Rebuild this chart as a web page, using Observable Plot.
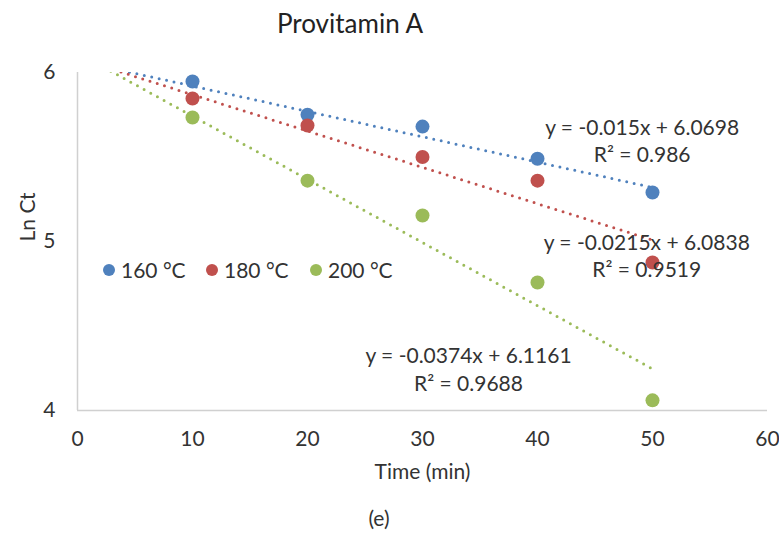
<!DOCTYPE html>
<html><head><meta charset="utf-8">
<script src="https://cdn.jsdelivr.net/npm/d3@7"></script>
<script src="https://cdn.jsdelivr.net/npm/@observablehq/plot@0.6"></script>
<style>
body{margin:0;background:#fff;font-family:Lato,sans-serif;color:#333}
#wrap{position:relative;width:779px;height:540px;overflow:hidden}
#title{height:50px;box-sizing:border-box;padding-top:8px;width:700px;text-align:center;font-size:26px;line-height:30px;color:#222}
#caption{height:45px;box-sizing:border-box;padding-top:11px;width:758px;text-align:center;font-size:21px;line-height:24px;color:#333}
.lg{position:absolute;top:258px;font-size:21px;line-height:24px;color:#333;white-space:nowrap;display:flex;align-items:center}
.lg i{display:inline-block;width:12px;height:12px;border-radius:50%;margin-right:6px}
svg{display:block}
</style></head>
<body><div id="wrap">
<div id="title">Provitamin A</div>
<div id="chart"></div>
<div id="caption">(e)</div>
</div>
<script>
const times = [10, 20, 30, 40, 50];
const seriesNames = ["160 °C", "180 °C", "200 °C"];
const ln160 = [5.947, 5.75, 5.68, 5.49, 5.29];
const ln180 = [5.846, 5.686, 5.50, 5.36, 4.876];
const ln200 = [5.734, 5.36, 5.154, 4.757, 4.06];
const slopes = [-0.015, -0.0215, -0.0374];
const intercepts = [6.0698, 6.0838, 6.1161];
const eqTexts = ["y = -0.015x + 6.0698\nR² = 0.986", "y = -0.0215x + 6.0838\nR² = 0.9519", "y = -0.0374x + 6.1161\nR² = 0.9688"];
const eqX = [49.1, 49.5, 34.0];
const eqY = [5.60, 4.92, 4.25];
const colors = ["#4F81BD", "#C0504D", "#9BBB59"];
const xTicks = [0, 10, 20, 30, 40, 50, 60];
const yTicks = [4, 5, 6];

const allSeries = [ln160, ln180, ln200];
const points = allSeries.flatMap((vals, i) => vals.map((v, j) => ({series: seriesNames[i], t: times[j], v})));
const trend = seriesNames.flatMap((s, i) => [0, 50].map(t => ({series: s, t, v: intercepts[i] + slopes[i] * t})));
const eqs = seriesNames.map((s, i) => ({series: s, text: eqTexts[i], x: eqX[i], y: eqY[i]}));

const chart = Plot.plot({
  width: 779, height: 445,
  marginTop: 22, marginBottom: 85, marginLeft: 77, marginRight: 12,
  style: {fontFamily: "Lato, sans-serif", fontSize: "21px", color: "#333", background: "#fff"},
  x: {domain: [0, 60], ticks: xTicks},
  y: {domain: [4, 6], ticks: yTicks},
  color: {domain: seriesNames, range: colors},
  marks: [
    Plot.ruleX([0], {stroke: "#d0d0d0", strokeWidth: 1.5}),
    Plot.ruleY([4], {stroke: "#d0d0d0", strokeWidth: 1.5}),
    Plot.axisX({ticks: xTicks, tickFormat: d => String(d), tickSize: 0, tickPadding: 21, label: null, fontSize: 21}),
    Plot.axisY({ticks: yTicks, tickFormat: d => String(d), tickSize: 0, tickPadding: 22, label: null, fontSize: 21}),
    Plot.text(["Time (min)"], {frameAnchor: "bottom", dy: 68, fontSize: 21, fill: "#333"}),
    Plot.text(["Ln Ct"], {frameAnchor: "left", dx: -49, rotate: -90, fontSize: 21, fill: "#333"}),
    Plot.line(trend, {x: "t", y: "v", z: "series", stroke: "series", strokeWidth: 3, strokeDasharray: "0 7.6", strokeLinecap: "round", clip: true}),
    Plot.dot(points, {x: "t", y: "v", fill: "series", r: 7}),
    Plot.text(eqs, {x: "x", y: "y", text: "text", fontSize: 21, lineHeight: 1.3, fill: "#333"})
  ]
});
document.getElementById("chart").appendChild(chart);

const legendX = [103, 206, 310];
const wrap = document.getElementById("wrap");
seriesNames.forEach((s, i) => {
  const d = document.createElement("div");
  d.className = "lg";
  d.style.left = legendX[i] + "px";
  d.innerHTML = `<i style="background:${colors[i]}"></i>${s}`;
  wrap.appendChild(d);
});
</script>
</body></html>
